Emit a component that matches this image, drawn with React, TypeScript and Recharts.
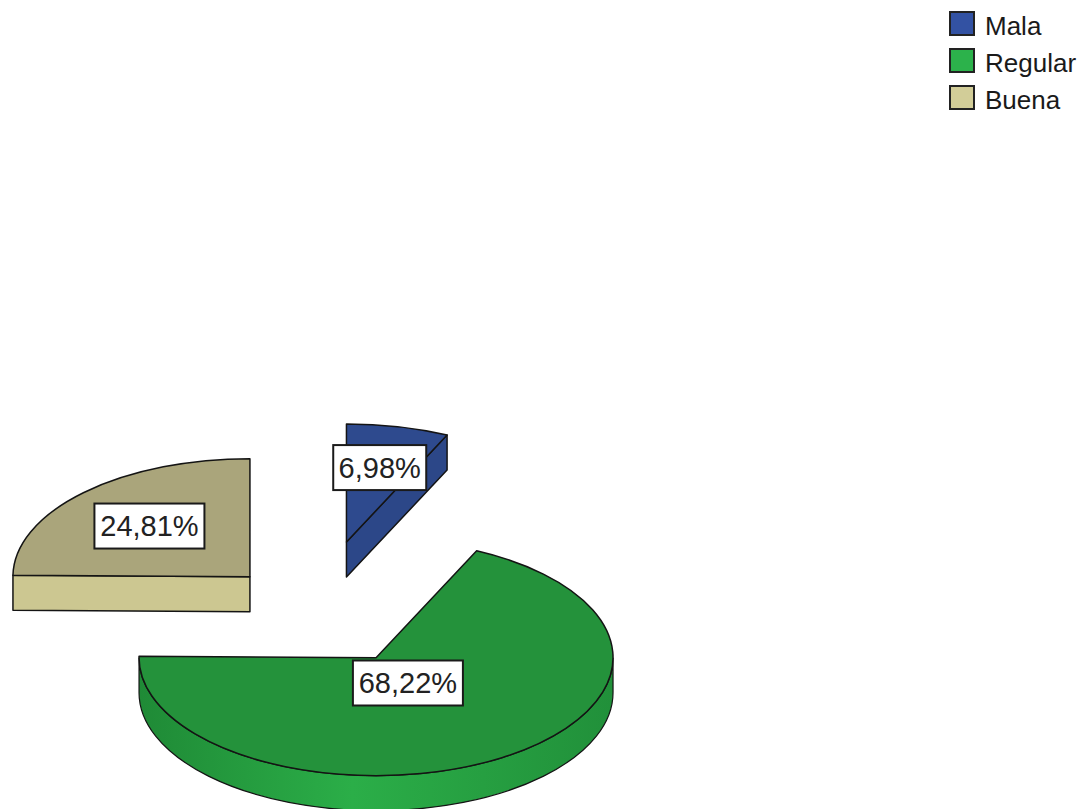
import { PieChart, Pie, Cell, Legend } from "recharts";

const categories = ["Mala", "Regular", "Buena"];
const percents = [6.98, 68.22, 24.81];

const topColors = ["#2e4a8e", "#24923b", "#aaa57b"];
const sideColors = ["#2c4788", "url(#wallGreen)", "#ccc791"];
const legendColors = ["#3352a3", "#2cb24b", "#d2cd98"];
const explode = [140, 113, 94];
const labelDist = [153, 60, 143];

const tilt = 0.498;
const depth = 35;
const font = '"Liberation Sans", Arial, sans-serif';

const data = categories.map((name, i) => ({ name, value: percents[i] }));

const rad = Math.PI / 180;

function renderSlice(props: any) {
  const { cx, cy, outerRadius: R, startAngle: s, endAngle: e, index } = props;
  const mid = (s + e) / 2;
  const d = explode[index];
  const ax = cx + d * Math.cos(mid * rad);
  const ay = cy - d * tilt * Math.sin(mid * rad);
  const pt = (a: number, dy = 0) => [ax + R * Math.cos(a * rad), ay - R * tilt * Math.sin(a * rad) + dy];
  const ry = R * tilt;
  const stroke = "#141414";

  const faces: any[] = [];
  const face = (a: number, key: string) => {
    const p = pt(a);
    const q = pt(a, depth);
    return (
      <path
        key={key}
        d={`M${ax},${ay} L${p[0]},${p[1]} L${q[0]},${q[1]} L${ax},${ay + depth} Z`}
        fill={sideColors[index]}
        stroke={stroke}
        strokeWidth={1.5}
        strokeLinejoin="round"
      />
    );
  };
  if (Math.cos(s * rad) < -0.001) faces.push(face(s, "fs"));
  if (Math.cos(e * rad) > 0.001) faces.push(face(e, "fe"));

  // visible outer wall: front half of the disc
  const hi = Math.max(s, e);
  const lo = Math.min(s, e);
  const walls: any[] = [];
  [[-180, 0], [180, 360], [-540, -360]].forEach(([f0, f1], k) => {
    const a = Math.min(hi, f1);
    const b = Math.max(lo, f0);
    if (a - b > 0.01) {
      const p = pt(a);
      const q = pt(b);
      const large = a - b > 180 ? 1 : 0;
      walls.push(
        <path
          key={"w" + k}
          d={`M${p[0]},${p[1]} A${R},${ry} 0 ${large} 1 ${q[0]},${q[1]} L${q[0]},${q[1] + depth} A${R},${ry} 0 ${large} 0 ${p[0]},${p[1] + depth} Z`}
          fill={sideColors[index]}
          stroke={stroke}
          strokeWidth={1.2}
        />
      );
    }
  });

  const p0 = pt(s);
  const p1 = pt(e);
  const large = Math.abs(s - e) > 180 ? 1 : 0;
  const topPath = `M${ax},${ay} L${p0[0]},${p0[1]} A${R},${ry} 0 ${large} 1 ${p1[0]},${p1[1]} Z`;

  const lx = ax + labelDist[index] * Math.cos(mid * rad);
  const ly = ay - labelDist[index] * tilt * Math.sin(mid * rad);
  const text = percents[index].toFixed(2).replace(".", ",") + "%";
  const bw = text.length * 17 + 8;
  const bh = 45;

  return (
    <g>
      {faces}
      {walls}
      <path d={topPath} fill={topColors[index]} stroke={stroke} strokeWidth={1.5} strokeLinejoin="round" />
      <rect x={lx - bw / 2} y={ly - bh / 2} width={bw} height={bh} fill="#ffffff" stroke="#1a1a1a" strokeWidth={2} />
      <text x={lx} y={ly + 10} textAnchor="middle" fontFamily={font} fontSize={29} fill="#222">
        {text}
      </text>
    </g>
  );
}

function renderLegend() {
  return (
    <div style={{ fontFamily: font, fontSize: 26, color: "#1a1a1a" }}>
      {categories.map((name, i) => (
        <div key={name} style={{ display: "flex", alignItems: "center", height: 37 }}>
          <div
            style={{
              width: 22,
              height: 21,
              border: "2px solid #222",
              background: legendColors[i],
              marginRight: 10,
            }}
          />
          <span style={{ position: "relative", top: 3 }}>{name}</span>
        </div>
      ))}
    </div>
  );
}

export default function App() {
  return (
    <div style={{ position: "absolute", left: 0, top: 0, background: "#fff" }}>
      <PieChart width={1089} height={809} margin={{ top: 0, right: 0, bottom: 0, left: 0 }}>
        <defs>
          <linearGradient id="wallGreen" x1="0" y1="0" x2="1" y2="0">
            <stop offset="0%" stopColor="#1f8a36" />
            <stop offset="45%" stopColor="#2bae48" />
            <stop offset="100%" stopColor="#21903a" />
          </linearGradient>
        </defs>
        <Pie
          data={data}
          dataKey="value"
          nameKey="name"
          cx={316}
          cy={610}
          outerRadius={237}
          startAngle={90}
          endAngle={-270}
          fill="none"
          stroke="none"
          labelLine={false}
          label={renderSlice}
          isAnimationActive={false}
        >
          {data.map((d) => (
            <Cell key={d.name} fill="none" stroke="none" />
          ))}
        </Pie>
        <Legend
          layout="vertical"
          align="right"
          verticalAlign="top"
          itemSorter={null}
          content={renderLegend}
          wrapperStyle={{ top: 5, right: 0, width: 140 }}
        />
      </PieChart>
    </div>
  );
}
